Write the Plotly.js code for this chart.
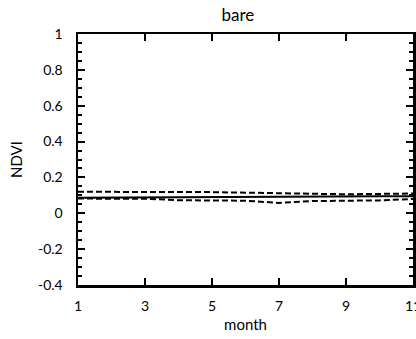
<!DOCTYPE html>
<html>
<head>
<meta charset="utf-8">
<script src="https://cdn.plot.ly/plotly-3.0.1.min.js"></script>
<style>html,body{margin:0;padding:0;background:#fff;}#chart{width:416px;height:339px;}</style>
</head>
<body>
<div id="chart"></div>
<script>
const months = [1,2,3,4,5,6,7,8,9,10,11];
const meanNDVI = [0.086,0.087,0.088,0.090,0.093,0.095,0.095,0.094,0.094,0.095,0.095];
const upperNDVI = [0.120,0.120,0.119,0.119,0.118,0.115,0.111,0.108,0.106,0.108,0.110];
const lowerNDVI = [0.082,0.082,0.081,0.073,0.072,0.070,0.058,0.068,0.070,0.072,0.080];
const xTickVals = [1,3,5,7,9,11];
const xTickText = ["1","3","5","7","9","11"];
const yTickVals = [-0.4,-0.2,0,0.2,0.4,0.6,0.8,1];
const yTickText = ["-0.4","-0.2","0","0.2","0.4","0.6","0.8","1"];

const font = "Lato, 'DejaVu Sans', sans-serif";
const traces = [
  {x: months, y: upperNDVI, mode: 'lines', line: {color: '#000', width: 2, dash: '6px,3px'}, showlegend: false},
  {x: months, y: lowerNDVI, mode: 'lines', line: {color: '#000', width: 2, dash: '6px,3px'}, showlegend: false},
  {x: months, y: meanNDVI, mode: 'lines', line: {color: '#000', width: 2}, showlegend: false}
];
const axisCommon = {
  showline: true, linecolor: '#000', linewidth: 2.5, mirror: 'ticks',
  ticks: 'inside', tickcolor: '#000', tickwidth: 2, ticklen: 7,
  showgrid: false, zeroline: false, ticklabeloverflow: 'allow',
  tickfont: {family: font, size: 14, color: '#000'}
};
const layout = {
  width: 416, height: 339,
  margin: {l: 78, r: 3, t: 34, b: 54},
  paper_bgcolor: '#fff', plot_bgcolor: '#fff',
  title: {text: 'bare', font: {family: font, size: 17, color: '#000'}, x: 0.572, xanchor: 'center', y: 0.955, yanchor: 'middle'},
  xaxis: Object.assign({}, axisCommon, {
    range: [1, 11], tickmode: 'array', tickvals: xTickVals, ticktext: xTickText,
    ticklabelstandoff: 7,
    title: {text: 'month', font: {family: font, size: 15, color: '#000'}, standoff: 6}
  }),
  yaxis: Object.assign({}, axisCommon, {
    range: [-0.4, 1], tickmode: 'array', tickvals: yTickVals, ticktext: yTickText,
    ticklabelstandoff: 10,
    minor: {dtick: 0.05, tick0: 0, ticks: 'inside', ticklen: 4, tickcolor: '#000', tickwidth: 2, showgrid: false},
    title: {text: 'NDVI', font: {family: font, size: 15, color: '#000'}, standoff: 12}
  })
};
Plotly.newPlot('chart', traces, layout, {staticPlot: true, displayModeBar: false});
</script>
</body>
</html>
